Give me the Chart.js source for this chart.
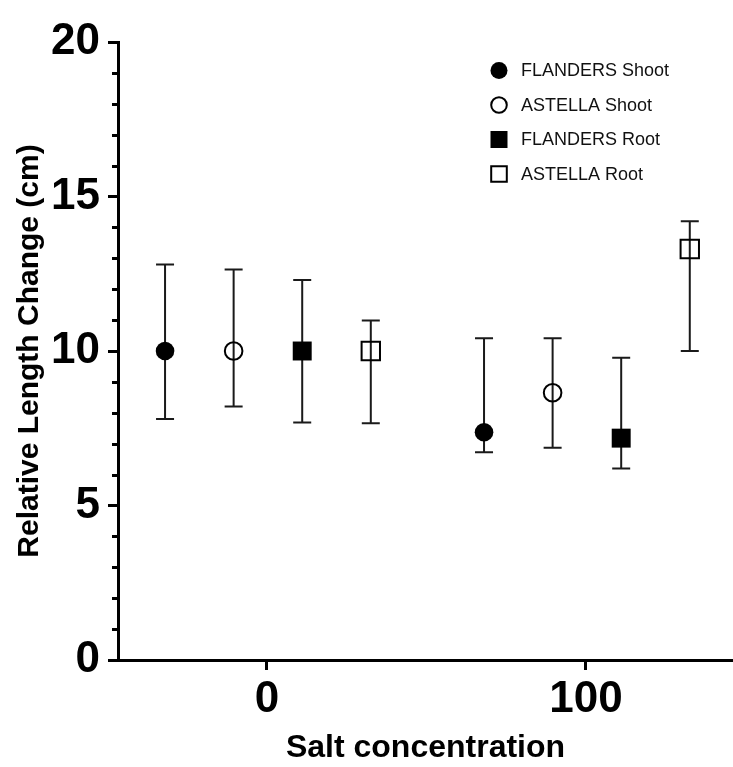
<!DOCTYPE html>
<html><head><meta charset="utf-8">
<script src="https://cdn.jsdelivr.net/npm/chart.js@4.4.0/dist/chart.umd.min.js"></script>
<style>html,body{margin:0;padding:0;background:#fff}canvas{display:block}</style>
</head><body>
<canvas id="c" width="733" height="767"></canvas>
<script>
// ---- data ----
const categories = [0, 100];
const seriesNames = ['FLANDERS Shoot', 'ASTELLA Shoot', 'FLANDERS Root', 'ASTELLA Root'];
const flandersShootMean = [10.0, 7.37];
const flandersShootLow  = [7.8, 6.72];
const flandersShootHigh = [12.8, 10.41];
const astellaShootMean  = [10.0, 8.65];
const astellaShootLow   = [8.2, 6.87];
const astellaShootHigh  = [12.64, 10.41];
const flandersRootMean  = [10.0, 7.18];
const flandersRootLow   = [7.69, 6.2];
const flandersRootHigh  = [12.3, 9.78];
const astellaRootMean   = [10.0, 13.3];
const astellaRootLow    = [7.66, 10.0];
const astellaRootHigh   = [10.99, 14.2];
const yTickLabels = [0, 5, 10, 15, 20];

// ---- styling ----
const FONT = "'Liberation Sans', Arial, Helvetica, sans-serif";
const DODGE = 21.5;
const series = [
  {mean: flandersShootMean, low: flandersShootLow, high: flandersShootHigh, shape: 'circle', filled: true},
  {mean: astellaShootMean,  low: astellaShootLow,  high: astellaShootHigh,  shape: 'circle', filled: false},
  {mean: flandersRootMean,  low: flandersRootLow,  high: flandersRootHigh,  shape: 'rect',   filled: true},
  {mean: astellaRootMean,   low: astellaRootLow,   high: astellaRootHigh,   shape: 'rect',   filled: false},
];

const datasets = series.map((s, i) => ({
  label: seriesNames[i],
  data: categories.map((c, j) => ({x: c + (i - 1.5) * DODGE + 0.3, y: s.mean[j], low: s.low[j], high: s.high[j]})),
  pointStyle: s.shape,
  pointRadius: s.shape === 'circle' ? (s.filled ? 9.3 : 8.8) : (s.filled ? 13.4 : 13.0),
  pointBackgroundColor: s.filled ? '#000' : 'rgba(0,0,0,0)',
  pointBorderColor: '#000',
  pointBorderWidth: s.filled ? 0 : 2,
  showLine: false,
}));

const errorBars = {
  id: 'errorBars',
  beforeDatasetsDraw(chart) {
    const {ctx, scales: {x, y}} = chart;
    ctx.save();
    ctx.strokeStyle = '#1a1a1a';
    ctx.lineWidth = 2;
    chart.data.datasets.forEach(ds => {
      ds.data.forEach(p => {
        const px = x.getPixelForValue(p.x);
        const yl = y.getPixelForValue(p.low), yh = y.getPixelForValue(p.high);
        ctx.beginPath();
        ctx.moveTo(px, yl); ctx.lineTo(px, yh);
        ctx.moveTo(px - 9, yl); ctx.lineTo(px + 9, yl);
        ctx.moveTo(px - 9, yh); ctx.lineTo(px + 9, yh);
        ctx.stroke();
      });
    });
    ctx.restore();
  }
};

const minorTicks = {
  id: 'minorTicks',
  afterDraw(chart) {
    const {ctx, scales: {y}, chartArea} = chart;
    ctx.save();
    ctx.strokeStyle = '#000';
    ctx.lineWidth = 3;
    for (let v = 0; v <= 20; v++) {
      if (v % 5 === 0) continue;
      const py = Math.round(y.getPixelForValue(v)) + 0.5;
      ctx.beginPath();
      ctx.moveTo(chartArea.left - 6, py); ctx.lineTo(chartArea.left, py);
      ctx.stroke();
    }
    ctx.restore();
  }
};

const legendBox = {
  id: 'legendBox',
  afterDraw(chart) {
    const {ctx} = chart;
    ctx.save();
    const x0 = 499, y0 = 70.5, step = 34.5;
    chart.data.datasets.forEach((ds, i) => {
      const s = series[i];
      const cy = y0 + i * step;
      ctx.fillStyle = '#000';
      ctx.strokeStyle = '#000';
      ctx.lineWidth = 2;
      ctx.beginPath();
      if (s.shape === 'circle') {
        ctx.arc(x0, cy, s.filled ? 8.5 : 7.8, 0, Math.PI * 2);
      } else {
        const h = s.filled ? 8.5 : 7.8;
        ctx.rect(x0 - h, cy - h, 2 * h, 2 * h);
      }
      if (s.filled) ctx.fill(); else ctx.stroke();
      ctx.fillStyle = '#111';
      ctx.font = '18px ' + FONT;
      ctx.textBaseline = 'middle';
      ctx.textAlign = 'left';
      ctx.fillText(ds.label, 521, cy + 1);
    });
    ctx.restore();
  }
};

new Chart(document.getElementById('c'), {
  type: 'scatter',
  data: {datasets},
  plugins: [errorBars, minorTicks, legendBox],
  options: {
    responsive: false,
    animation: false,
    devicePixelRatio: 1,
    layout: {autoPadding: false, padding: {top: 42, right: 0, left: 0, bottom: 0}},
    plugins: {legend: {display: false}, tooltip: {enabled: false}},
    scales: {
      x: {
        type: 'linear',
        min: -46.7, max: 146.1,
        afterBuildTicks: s => { s.ticks = categories.map(v => ({value: v})); },
        afterFit: s => { s.height = 107; },
        grid: {drawOnChartArea: false, drawTicks: true, tickLength: 10, tickWidth: 3, tickColor: '#000'},
        border: {display: true, color: '#000', width: 3},
        ticks: {color: '#000', padding: 3, font: {family: FONT, size: 44, weight: 'bold'}, autoSkip: false, maxRotation: 0},
        title: {display: true, text: 'Salt concentration', color: '#000', font: {family: FONT, size: 32, weight: 'bold'}, padding: {top: 0, bottom: 0}}
      },
      y: {
        min: 0, max: 20,
        afterBuildTicks: s => { const t = []; for (let v = 0; v <= 20; v++) t.push({value: v}); s.ticks = t; },
        afterFit: s => { s.width = 118; },
        grid: {drawOnChartArea: false, drawTicks: true, tickLength: 10, tickWidth: 3,
               tickColor: c => (yTickLabels.includes(c.tick.value) ? '#000' : 'rgba(0,0,0,0)')},
        border: {display: true, color: '#000', width: 3},
        ticks: {color: '#000', padding: 8, autoSkip: false, font: {family: FONT, size: 44, weight: 'bold'},
                callback: v => (yTickLabels.includes(v) ? String(v) : '')},
        title: {display: true, text: 'Relative Length Change (cm)', color: '#000', font: {family: FONT, size: 30, weight: 'bold'}, padding: {top: 12, bottom: 0}}
      }
    }
  }
});
</script>
</body></html>
